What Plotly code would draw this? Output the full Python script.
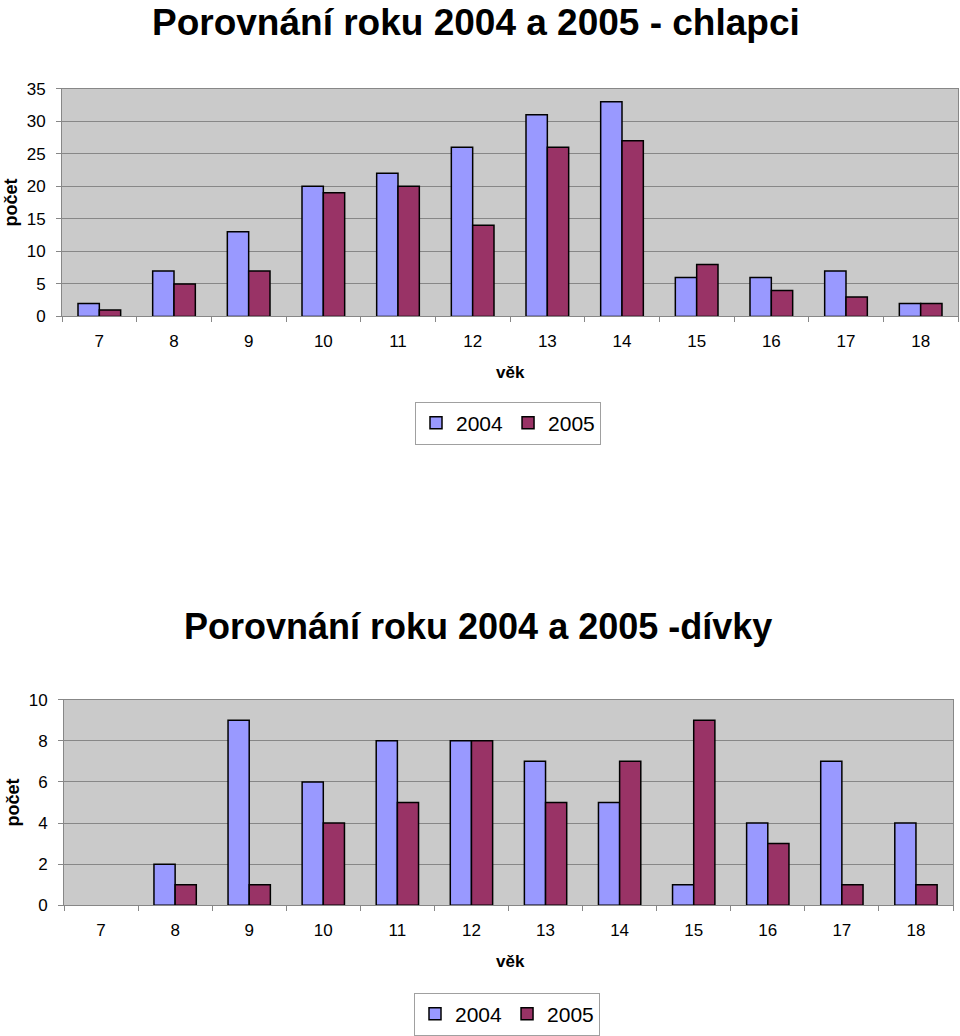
import plotly.graph_objects as go

ages = ["7", "8", "9", "10", "11", "12", "13", "14", "15", "16", "17", "18"]
boys_2004 = [2, 7, 13, 20, 22, 26, 31, 33, 6, 6, 7, 2]
boys_2005 = [1, 5, 7, 19, 20, 14, 26, 27, 8, 4, 3, 2]
girls_2004 = [0, 2, 9, 6, 8, 8, 7, 5, 1, 4, 7, 4]
girls_2005 = [0, 1, 1, 4, 5, 8, 5, 7, 9, 3, 1, 1]
series_names = ["2004", "2005"]
title_boys = "Porovnání roku 2004 a 2005 - chlapci"
title_girls = "Porovnání roku 2004 a 2005 -dívky"

C2004 = "#9999FF"
C2005 = "#993366"
W, H = 960, 1036
FONT = "Liberation Sans, Arial, sans-serif"

def px(x):
    return x / W

def py(y):
    return 1 - y / H

def nz(vals):
    # zero-count bars are not drawn at all
    return [v if v != 0 else None for v in vals]

fig = go.Figure()
for name, vals, col in [(series_names[0], boys_2004, C2004), (series_names[1], boys_2005, C2005)]:
    fig.add_trace(go.Bar(x=ages, y=nz(vals), name=name,
                         marker=dict(color=col, line=dict(color="black", width=1.5)),
                         xaxis="x", yaxis="y", legend="legend"))
for name, vals, col in [(series_names[0], girls_2004, C2004), (series_names[1], girls_2005, C2005)]:
    fig.add_trace(go.Bar(x=ages, y=nz(vals), name=name,
                         marker=dict(color=col, line=dict(color="black", width=1.5)),
                         xaxis="x2", yaxis="y2", legend="legend2"))

grid = "#878787"
axis_common = dict(showline=True, linecolor=grid, linewidth=1, mirror=True, automargin=False,
                   tickfont=dict(family=FONT, size=17, color="black"))

fig.update_layout(
    width=W, height=H,
    autosize=False,
    margin=dict(l=0, r=0, t=0, b=0, pad=0),
    paper_bgcolor="white",
    plot_bgcolor="#CACACA",
    barmode="group",
    bargap=1.5 / 3.5,
    bargroupgap=0,
    showlegend=True,
    xaxis=dict(domain=[px(62), px(958)], anchor="y", type="category",
               ticks="outside", tickson="boundaries", ticklen=5, tickcolor=grid,
               ticklabelstandoff=9, showgrid=False, **axis_common),
    yaxis=dict(domain=[py(317), py(89)], anchor="x", range=[0, 35], dtick=5,
               ticks="outside", ticklen=5, tickcolor=grid, ticklabelstandoff=7,
               showgrid=True, gridcolor=grid, gridwidth=1, zeroline=False, **axis_common),
    xaxis2=dict(domain=[px(64), px(953)], anchor="y2", type="category",
                ticks="outside", tickson="boundaries", ticklen=5, tickcolor=grid,
                ticklabelstandoff=9, showgrid=False, **axis_common),
    yaxis2=dict(domain=[py(907), py(701)], anchor="x2", range=[0, 10], dtick=2,
                ticks="outside", ticklen=5, tickcolor=grid, ticklabelstandoff=7,
                showgrid=True, gridcolor=grid, gridwidth=1, zeroline=False, **axis_common),
    legend=dict(orientation="h", x=px(508), y=py(424), xanchor="center", yanchor="middle",
                bordercolor="#A0A0A0", borderwidth=1, bgcolor="white",
                font=dict(family=FONT, size=21, color="black"), itemwidth=30,
                tracegroupgap=0),
    legend2=dict(orientation="h", x=px(507), y=py(1016), xanchor="center", yanchor="middle",
                 bordercolor="#A0A0A0", borderwidth=1, bgcolor="white",
                 font=dict(family=FONT, size=21, color="black"), itemwidth=30,
                 tracegroupgap=0),
    annotations=[
        dict(text=f"<b>{title_boys}</b>", x=px(476), y=1.0, xref="paper", yref="paper",
             showarrow=False, xanchor="center", yanchor="top",
             font=dict(family=FONT, size=37, color="black")),
        dict(text=f"<b>{title_girls}</b>", x=px(478), y=py(628), xref="paper", yref="paper",
             showarrow=False, xanchor="center", yanchor="middle",
             font=dict(family=FONT, size=36, color="black")),
        dict(text="<b>počet</b>", x=px(11), y=py(203), xref="paper", yref="paper", textangle=-90,
             showarrow=False, xanchor="center", yanchor="middle",
             font=dict(family=FONT, size=18, color="black")),
        dict(text="<b>počet</b>", x=px(13), y=py(804), xref="paper", yref="paper", textangle=-90,
             showarrow=False, xanchor="center", yanchor="middle",
             font=dict(family=FONT, size=18, color="black")),
        dict(text="<b>věk</b>", x=px(510), y=py(373), xref="paper", yref="paper",
             showarrow=False, xanchor="center", yanchor="middle",
             font=dict(family=FONT, size=17, color="black")),
        dict(text="<b>věk</b>", x=px(510), y=py(963), xref="paper", yref="paper",
             showarrow=False, xanchor="center", yanchor="middle",
             font=dict(family=FONT, size=17, color="black")),
    ],
)

fig.write_html(
    "out.html",
    config={"displayModeBar": False},
    post_script=(
        "document.documentElement.style.margin='0';"
        "document.body.style.margin='0';document.body.style.padding='0';"
        "document.documentElement.style.overflow='hidden';"
        "var d=document.getElementById('{plot_id}');"
        "d.style.position='fixed';d.style.top='0px';d.style.left='0px';"
    ),
)
